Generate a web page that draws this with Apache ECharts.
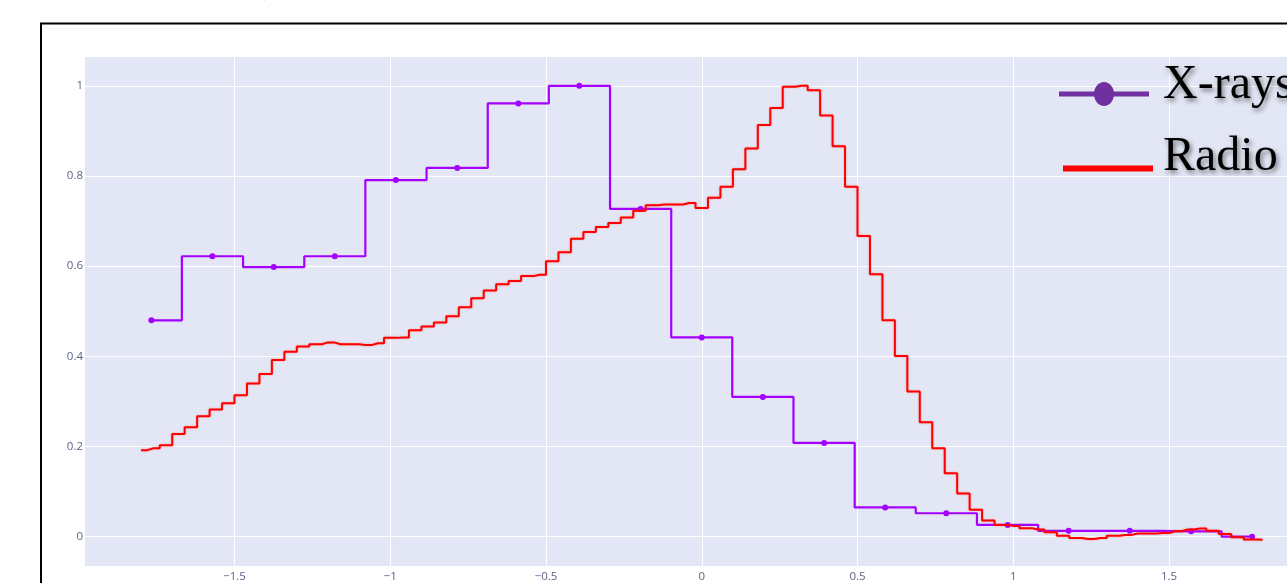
<!DOCTYPE html>
<html>
<head>
<meta charset="utf-8">
<script src="https://cdn.jsdelivr.net/npm/echarts/dist/echarts.min.js"></script>
<style>
  html, body { margin: 0; padding: 0; background: #ffffff; overflow: hidden; }
  #chart { width: 1330px; height: 583px; }
</style>
</head>
<body>
<div id="chart"></div>
<script>
// X-ray light curve: phase bins (rad) and normalised counts
const xrayPhase = [-1.767, -1.571, -1.374, -1.178, -0.982, -0.785, -0.589, -0.393, -0.196, 0,
                   0.196, 0.393, 0.589, 0.785, 0.982, 1.178, 1.374, 1.571, 1.767];
const xrayValue = [0.480, 0.622, 0.598, 0.622, 0.791, 0.818, 0.961, 1.000, 0.727, 0.442,
                   0.310, 0.208, 0.065, 0.052, 0.026, 0.013, 0.013, 0.012, 0.000];

// Radio profile: phase bins (rad) and normalised flux
const radioPhase = [-1.80, -1.76, -1.72, -1.68, -1.64, -1.60, -1.56, -1.52, -1.48, -1.44,
                    -1.40, -1.36, -1.32, -1.28, -1.24, -1.20, -1.16, -1.12, -1.08, -1.04,
                    -1.00, -0.96, -0.92, -0.88, -0.84, -0.80, -0.76, -0.72, -0.68, -0.64,
                    -0.60, -0.56, -0.52, -0.48, -0.44, -0.40, -0.36, -0.32, -0.28, -0.24,
                    -0.20, -0.16, -0.12, -0.08, -0.04, 0.00, 0.04, 0.08, 0.12, 0.16,
                    0.20, 0.24, 0.28, 0.32, 0.36, 0.40, 0.44, 0.48, 0.52, 0.56,
                    0.60, 0.64, 0.68, 0.72, 0.76, 0.80, 0.84, 0.88, 0.92, 0.96,
                    1.00, 1.04, 1.08, 1.12, 1.16, 1.20, 1.24, 1.28, 1.32, 1.36,
                    1.40, 1.44, 1.48, 1.52, 1.56, 1.60, 1.64, 1.68, 1.72, 1.76, 1.80];
const radioValue = [0.192, 0.196, 0.203, 0.228, 0.243, 0.267, 0.282, 0.296, 0.314, 0.340,
                    0.361, 0.392, 0.410, 0.422, 0.427, 0.431, 0.427, 0.427, 0.425, 0.429,
                    0.441, 0.442, 0.458, 0.466, 0.475, 0.489, 0.509, 0.529, 0.546, 0.560,
                    0.567, 0.578, 0.581, 0.611, 0.631, 0.661, 0.676, 0.687, 0.696, 0.708,
                    0.723, 0.735, 0.737, 0.737, 0.740, 0.729, 0.752, 0.776, 0.815, 0.861,
                    0.913, 0.951, 0.998, 1.000, 0.990, 0.934, 0.866, 0.776, 0.667, 0.582,
                    0.480, 0.401, 0.322, 0.254, 0.196, 0.141, 0.096, 0.060, 0.036, 0.026,
                    0.024, 0.019, 0.016, 0.010, 0.002, -0.003, -0.005, -0.003, 0.002, 0.004,
                    0.007, 0.007, 0.008, 0.012, 0.016, 0.018, 0.013, 0.006, -0.001, -0.006, -0.007];

// Legend entries
const legendNames = ['X-rays', 'Radio'];

const pair = (xs, ys) => xs.map((x, i) => [x, ys[i]]);
const minusSign = v => String(v).replace('-', '\u2212');

const labelStyle = {
  color: '#5d6385',
  fontSize: 11.5,
  fontFamily: "'Open Sans', 'Noto Sans', sans-serif"
};

const chart = echarts.init(document.getElementById('chart'), null, { renderer: 'canvas' });

chart.setOption({
  animation: false,
  backgroundColor: '#ffffff',
  grid: {
    left: 85, top: 57, width: 1233.5, height: 509,
    show: true, backgroundColor: '#e3e7f5', borderWidth: 0
  },
  xAxis: {
    type: 'value',
    min: -1.98, max: 1.98, splitNumber: 8,
    axisLine: { show: false },
    axisTick: { show: false },
    axisLabel: Object.assign({ margin: 5, showMinLabel: false, showMaxLabel: false,
      formatter: minusSign }, labelStyle),
    splitLine: { show: true, showMinLine: false, showMaxLine: false,
      lineStyle: { color: '#ffffff', width: 1 } }
  },
  yAxis: {
    type: 'value',
    min: -0.065, max: 1.064, splitNumber: 6,
    axisLine: { show: false },
    axisTick: { show: false },
    axisLabel: Object.assign({ margin: 2, showMinLabel: false, showMaxLabel: false,
      formatter: minusSign }, labelStyle),
    splitLine: { show: true, showMinLine: false, showMaxLine: false,
      lineStyle: { color: '#ffffff', width: 1 } }
  },
  series: [
    {
      name: legendNames[0],
      type: 'line',
      step: 'middle',
      data: pair(xrayPhase, xrayValue),
      symbol: 'circle',
      symbolSize: 6,
      showSymbol: true,
      itemStyle: { color: '#a400ff' },
      lineStyle: { color: '#a400ff', width: 2.2 },
      z: 2
    },
    {
      name: legendNames[1],
      type: 'line',
      step: 'middle',
      data: pair(radioPhase, radioValue),
      symbol: 'none',
      lineStyle: { color: '#ff0000', width: 2, shadowColor: 'rgba(255,60,60,0.45)', shadowBlur: 2 },
      z: 3
    }
  ],
  graphic: [
    // outer frame
    {
      type: 'rect', silent: true, z: 10,
      shape: { x: 41, y: 23.5, width: 1400, height: 700 },
      style: { fill: null, stroke: '#000000', lineWidth: 2 }
    },
    // stray glyph at the very top edge
    {
      type: 'text', silent: true, z: 10,
      style: { text: '\u221a', x: 261, y: -9, fill: '#000000',
        font: "12px 'DejaVu Sans', sans-serif" }
    },
    // legend: X-rays
    {
      type: 'line', silent: true, z: 20,
      shape: { x1: 1059, y1: 94, x2: 1149, y2: 94 },
      style: { stroke: '#7030a0', lineWidth: 5 }
    },
    {
      type: 'ellipse', silent: true, z: 21,
      shape: { cx: 1104, cy: 94, rx: 10, ry: 12 },
      style: { fill: '#7030a0' }
    },
    {
      type: 'text', silent: true, z: 22,
      style: {
        text: legendNames[0], x: 1163, y: 85.5,
        fill: '#000000', verticalAlign: 'middle',
        font: "48px 'Liberation Serif', 'Times New Roman', serif",
        textShadowColor: 'rgba(0,0,0,0.5)', textShadowBlur: 5,
        textShadowOffsetX: 2, textShadowOffsetY: 3
      }
    },
    // legend: Radio
    {
      type: 'line', silent: true, z: 20,
      shape: { x1: 1063, y1: 168.5, x2: 1153, y2: 168.5 },
      style: { stroke: '#ff0000', lineWidth: 6 }
    },
    {
      type: 'text', silent: true, z: 22,
      style: {
        text: legendNames[1], x: 1163, y: 157.3,
        fill: '#000000', verticalAlign: 'middle',
        font: "48px 'Liberation Serif', 'Times New Roman', serif",
        textShadowColor: 'rgba(0,0,0,0.5)', textShadowBlur: 5,
        textShadowOffsetX: 2, textShadowOffsetY: 3
      }
    }
  ]
});
</script>
</body>
</html>
